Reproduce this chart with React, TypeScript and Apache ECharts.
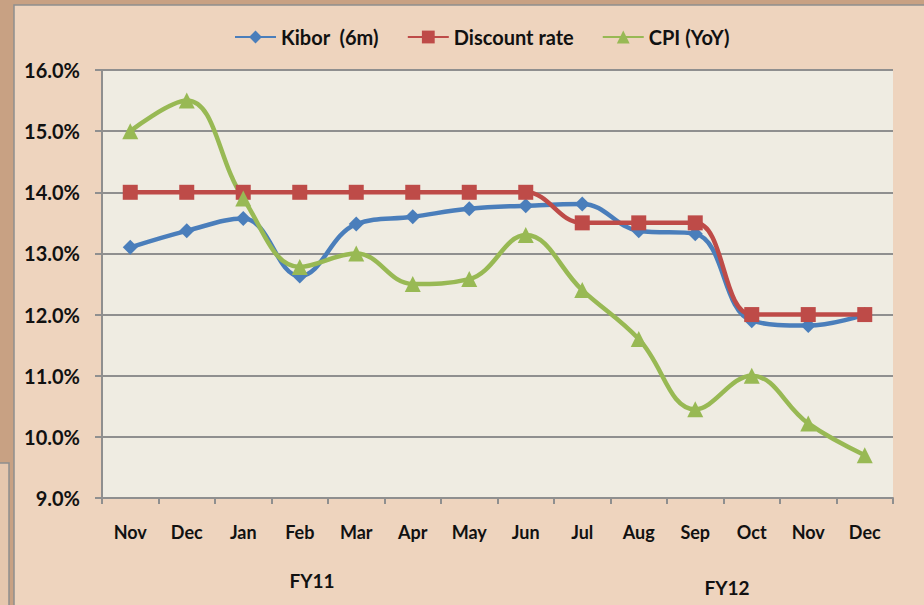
import React, { useEffect, useRef } from "react";
import * as echarts from "echarts";

const categories = ["Nov", "Dec", "Jan", "Feb", "Mar", "Apr", "May", "Jun", "Jul", "Aug", "Sep", "Oct", "Nov", "Dec"];
const kibor = [13.1, 13.37, 13.57, 12.63, 13.48, 13.6, 13.73, 13.78, 13.81, 13.37, 13.32, 11.9, 11.82, 12.0];
const discountRate = [14, 14, 14, 14, 14, 14, 14, 14, 13.5, 13.5, 13.5, 12, 12, 12];
const cpi = [15.0, 15.5, 13.9, 12.78, 13.0, 12.5, 12.58, 13.3, 12.4, 11.6, 10.45, 11.0, 10.22, 9.7];
const seriesNames = ["Kibor  (6m)", "Discount rate", "CPI (YoY)"];
const periodLabels = ["FY11", "FY12"];

const FONT = "Lato, 'Noto Sans', sans-serif";

export default function App() {
  const ref = useRef<HTMLDivElement>(null);
  useEffect(() => {
    if (!ref.current) return;
    const chart = echarts.init(ref.current, null, { renderer: "svg" });
    const lineCommon = { type: "line", smooth: 0.4, z: 3 };
    chart.setOption({
      animation: false,
      backgroundColor: "transparent",
      graphic: [
        { type: "rect", z: -10, shape: { x: 14, y: 5, width: 930, height: 620 }, style: { fill: "#eed4be", stroke: "#8f8f8f", lineWidth: 1.5 } },
        { type: "rect", z: -10, shape: { x: -2, y: 463, width: 11, height: 160 }, style: { fill: "#e6c7ae", stroke: "#8f8f8f", lineWidth: 1.5 } },
        { type: "text", z: 5, x: 312, y: 580, style: { text: periodLabels[0], font: `bold 19px ${FONT}`, fill: "#111", align: "center", verticalAlign: "middle" } },
        { type: "text", z: 5, x: 727, y: 587, style: { text: periodLabels[1], font: `bold 19px ${FONT}`, fill: "#111", align: "center", verticalAlign: "middle" } },
      ],
      legend: {
        top: 22,
        left: 229,
        itemGap: 28,
        itemWidth: 41,
        itemHeight: 16,
        textStyle: { fontFamily: FONT, fontWeight: "bold", fontSize: 20, color: "#111", padding: [0, 0, 0, 0] },
        data: seriesNames,
      },
      grid: {
        left: 102,
        right: 31,
        top: 70,
        bottom: 107,
        show: true,
        backgroundColor: "#efece2",
        borderWidth: 0,
      },
      xAxis: {
        type: "category",
        data: categories,
        boundaryGap: true,
        axisLine: { lineStyle: { color: "#8f8f8f", width: 2 } },
        axisTick: { show: true, length: 6, lineStyle: { color: "#8f8f8f", width: 2 } },
        axisLabel: { fontFamily: FONT, fontWeight: "bold", fontSize: 18, color: "#111", margin: 25 },
        splitLine: { show: false },
      },
      yAxis: {
        type: "value",
        min: 9,
        max: 16,
        interval: 1,
        axisLine: { show: true, lineStyle: { color: "#8f8f8f", width: 2 } },
        axisTick: { show: true, length: 7, lineStyle: { color: "#8f8f8f", width: 2 } },
        axisLabel: { fontFamily: FONT, fontWeight: "bold", fontSize: 20, color: "#111", margin: 22, formatter: (v: number) => v.toFixed(1) + "%" },
        splitLine: { show: true, lineStyle: { color: "#8f8f8f", width: 2 } },
      },
      series: [
        { ...lineCommon, name: seriesNames[0], data: kibor, color: "#4a7ebb", symbol: "diamond", symbolSize: 15, itemStyle: { color: "#4a7ebb" }, lineStyle: { width: 4.5, color: "#4a7ebb" } },
        { ...lineCommon, name: seriesNames[1], data: discountRate, color: "#be4b48", symbol: "rect", symbolSize: 15, itemStyle: { color: "#be4b48" }, lineStyle: { width: 4.5, color: "#be4b48" } },
        { ...lineCommon, name: seriesNames[2], data: cpi, color: "#98b954", symbol: "triangle", symbolSize: 16, itemStyle: { color: "#98b954" }, lineStyle: { width: 4.5, color: "#98b954" } },
      ],
    });
    return () => chart.dispose();
  }, []);
  return (
    <div style={{ position: "absolute", left: 0, top: 0, width: 924, height: 605, background: "#c8a183", overflow: "hidden" }}>
      <div ref={ref} style={{ width: 924, height: 605 }} />
    </div>
  );
}
